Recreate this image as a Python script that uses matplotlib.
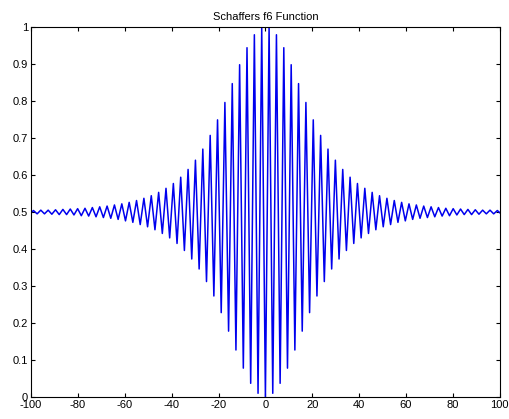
import numpy as np
import matplotlib
matplotlib.use("Agg")
import matplotlib.pyplot as plt

# Extrema of the curve for x >= 0 (the curve is symmetric).
x_troughs = [0.0, 3.14, 6.28, 9.42, 12.57, 15.71, 18.85, 21.99, 25.13, 28.27,
             31.42, 34.56, 37.70, 40.84, 43.98, 47.12, 50.27, 53.41, 56.55, 59.69,
             62.83, 65.97, 69.12, 72.26, 75.40, 78.54, 81.68, 84.82, 87.96, 91.11,
             94.25, 97.39]
y_troughs = [0.000, 0.010, 0.037, 0.078, 0.127, 0.178, 0.228, 0.273, 0.312, 0.346,
             0.373, 0.396, 0.415, 0.430, 0.442, 0.452, 0.460, 0.466, 0.472, 0.476,
             0.480, 0.483, 0.485, 0.487, 0.489, 0.490, 0.492, 0.493, 0.493, 0.494,
             0.495, 0.495]
x_peaks = [1.57, 4.71, 7.85, 11.00, 14.14, 17.28, 20.42, 23.56, 26.70, 29.85,
           32.99, 36.13, 39.27, 42.41, 45.55, 48.69, 51.84, 54.98, 58.12, 61.26,
           64.40, 67.54, 70.69, 73.83, 76.97, 80.11, 83.25, 86.39, 89.54, 92.68,
           95.82, 98.96]
y_peaks = [0.998, 0.979, 0.944, 0.898, 0.847, 0.796, 0.749, 0.707, 0.670, 0.640,
           0.615, 0.594, 0.577, 0.564, 0.553, 0.544, 0.537, 0.531, 0.526, 0.522,
           0.519, 0.516, 0.514, 0.512, 0.510, 0.509, 0.508, 0.507, 0.506, 0.505,
           0.505, 0.504]
x_end = 100.0
y_end = 0.498

x_ticks = [-100, -80, -60, -40, -20, 0, 20, 40, 60, 80, 100]
y_ticks = [0, 0.1, 0.2, 0.3, 0.4, 0.5, 0.6, 0.7, 0.8, 0.9, 1]
y_tick_labels = ["0", "0.1", "0.2", "0.3", "0.4", "0.5", "0.6", "0.7", "0.8", "0.9", "1"]

# Merge troughs and peaks into one path for the right half, then mirror it.
xr = np.array(x_troughs + x_peaks + [x_end])
yr = np.array(y_troughs + y_peaks + [y_end])
order = np.argsort(xr)
xr, yr = xr[order], yr[order]
x = np.concatenate([-xr[:0:-1], xr])
y = np.concatenate([yr[:0:-1], yr])

plt.rcParams["font.family"] = ["Liberation Sans", "DejaVu Sans"]
plt.rcParams["axes.unicode_minus"] = False

fig = plt.figure(figsize=(5.1, 4.19), dpi=100)
ax = fig.add_axes([0.0608, 0.0525, 0.9192, 0.8831])
ax.plot(x, y, color="#0000ee", lw=1.1)
ax.set_title("Schaffers f6 Function", fontsize=8, pad=5)
ax.set_xlim(-100, 100)
ax.set_ylim(0, 1)
ax.set_xticks(x_ticks)
ax.set_yticks(y_ticks)
ax.set_yticklabels(y_tick_labels)
ax.tick_params(direction="in", top=True, right=True, length=3, width=0.8,
               labelsize=8, pad=2)
for s in ax.spines.values():
    s.set_linewidth(0.8)

fig.savefig("out.png", dpi=100)
